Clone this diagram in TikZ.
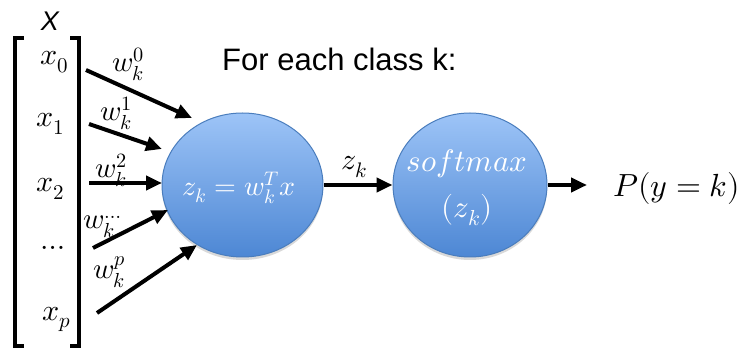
\documentclass[tikz,border=0pt]{standalone}
\usepackage{fontspec}
\usepackage{unicode-math}
\setmathfont{Latin Modern Math}
\newfontfamily\arialfont{Liberation Sans}
\usetikzlibrary{arrows.meta,shapes.geometric,shadows}
\definecolor{circtop}{HTML}{9DC4F7}
\definecolor{circbot}{HTML}{4D87D4}
\definecolor{circline}{HTML}{4A7DBD}
\tikzset{
  neuron/.style={ellipse, draw=circline, line width=1pt, top color=circtop, bottom color=circbot,
    drop shadow={shadow xshift=0pt, shadow yshift=-3pt, opacity=0.25, fill=black!60}},
  arr/.style={line width=4pt, -{Triangle[length=16pt,width=14pt]}},
  lbl/.style={inner sep=0pt, font=\fontsize{30}{34}\selectfont},
  wlbl/.style={inner sep=0pt, anchor=base west, font=\fontsize{29}{34}\selectfont},
  inlbl/.style={inner sep=0pt, text=white, font=\fontsize{28}{32}\selectfont},
}
\begin{document}
\begin{tikzpicture}[x=1pt,y=-1pt]
\useasboundingbox (0,0) rectangle (738,352);
% X label and brackets
\node[inner sep=0pt, font=\arialfont\itshape\fontsize{27}{30}\selectfont] (X) at (50,21) {X};
\draw[line width=4pt, line join=miter] (24,38) -- (15,38) -- (15,346) -- (24,346);
\draw[line width=4pt, line join=miter] (70,38) -- (79,38) -- (79,346) -- (70,346);
% inputs
\node[lbl, anchor=base west] (x0) at (40,65) {$x_0$};
\node[lbl, anchor=base west] (x1) at (36,127) {$x_1$};
\node[lbl, anchor=base west] (x2) at (36,192) {$x_2$};
\node[lbl, anchor=base west] (xd) at (40,250) {$\dots$};
\node[lbl, anchor=base west] (xp) at (42,320) {$x_p$};
% weights
\node[wlbl] (w0) at (112,72) {$w_k^0$};
\node[wlbl] (w1) at (100,121) {$w_k^1$};
\node[wlbl] (w2) at (95,178) {$w_k^2$};
\node[wlbl] (wd) at (83,229) {$w_k^{\dots}$};
\node[wlbl] (wp) at (93,279) {$w_k^p$};
% neurons
\node[neuron, minimum width=161pt, minimum height=144pt, inner sep=0pt] (n1) at (242.5,185) {};
\node[inlbl] (t1) at (239,188) {$z_k = w_k^T x$};
\node[neuron, minimum width=154pt, minimum height=144pt, inner sep=0pt] (n2) at (470,185) {};
\node[inlbl, anchor=base, font=\fontsize{31}{34}\selectfont] (t2) at (467,172) {$softmax$};
\node[inlbl, anchor=base, font=\fontsize{31}{34}\selectfont] (t3) at (467,218) {$(z_k)$};
% title
\node[inner sep=0pt, anchor=base west, font=\arialfont\fontsize{31}{36}\selectfont] (title) at (222,71) {For each class k:};
% output
\node[lbl, anchor=base west, font=\fontsize{32}{36}\selectfont] (p) at (613,197) {$P(y=k)$};
\node[lbl, anchor=base] (zk) at (354,170) {$z_k$};
% arrow coordinates
\coordinate (s0) at (86,70);  \coordinate (e0) at (192,118);
\coordinate (s1) at (89,124); \coordinate (e1) at (162,149);
\coordinate (s2) at (89,183); \coordinate (e2) at (162,183);
\coordinate (s3) at (93,248); \coordinate (e3) at (168,210);
\coordinate (s4) at (97,313); \coordinate (e4) at (197,245);
\draw[arr] (s0) -- (e0);
\draw[arr] (s1) -- (e1);
\draw[arr] (s2) -- (e2);
\draw[arr] (s3) -- (e3);
\draw[arr] (s4) -- (e4);
\draw[arr] (n1.east) -- (n2.west);
\draw[arr, shorten >=26pt] (n2.east) -- (n2.east -| p.west);
\end{tikzpicture}
\end{document}
